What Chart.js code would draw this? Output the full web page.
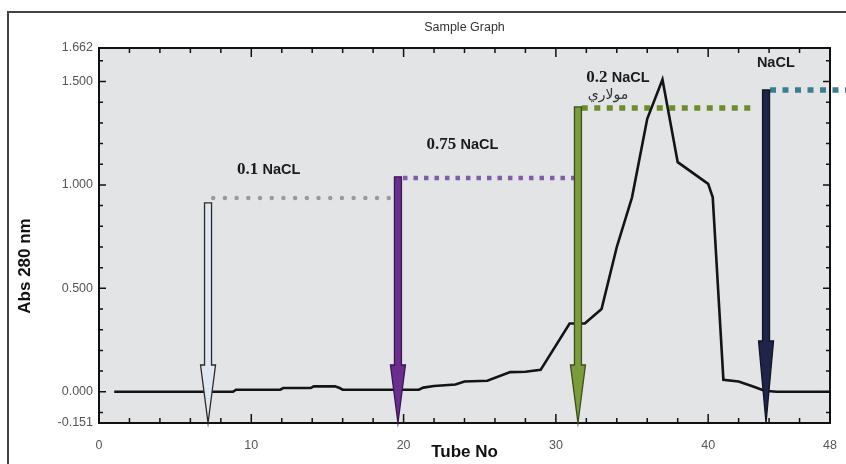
<!DOCTYPE html>
<html>
<head>
<meta charset="utf-8">
<script src="https://cdn.jsdelivr.net/npm/chart.js@4.4.0/dist/chart.umd.min.js"></script>
<style>
  html, body { margin: 0; padding: 0; background: #fff; }
  #wrap { width: 846px; height: 464px; position: relative; }
</style>
</head>
<body>
<div id="wrap"><canvas id="canvas" width="846" height="464"></canvas></div>
<script>
// absorbance curve (tube no, abs 280)
const tubes = [1, 8.8, 9, 11.9, 12.1, 13.9, 14.1, 15.5, 15.8, 16, 21, 21.3, 22, 23.4, 24, 25.5, 27, 28, 29, 30.9, 31.9, 33, 34, 35, 36, 37, 38, 40, 40.3, 41, 42, 43, 43.7, 44.5, 48];
const absValues = [0, 0, 0.01, 0.01, 0.018, 0.018, 0.026, 0.026, 0.018, 0.01, 0.01, 0.02, 0.028, 0.035, 0.05, 0.053, 0.095, 0.097, 0.106, 0.33, 0.33, 0.40, 0.70, 0.94, 1.32, 1.51, 1.11, 1.005, 0.94, 0.058, 0.05, 0.024, 0.005, 0, 0];

const xTicks = [0, 10, 20, 30, 40, 48];
const yTicks = [-0.151, 0, 0.5, 1.0, 1.5, 1.662];

// salt steps: arrow position, arrow top, dotted level and its span
const stepNames = ['0.1 NaCL', '0.75 NaCL', '0.2 NaCL', 'NaCL'];
const arrowX = [7.16, 19.63, 31.45, 43.8];
const arrowTop = [0.913, 1.039, 1.377, 1.459];
const levelY = [0.937, 1.034, 1.372, 1.459];
const levelStart = [7.5, 19.96, 31.7, 44.06];
const levelEnd = [19.24, 31.25, 43.07, 49.2];

// text labels (left x, middle y in data units)
const labelX = [9.06, 21.5, 32.0, 43.2];
const labelY = [1.072, 1.193, 1.517, 1.589];
const arabicText = 'مولاري';
const arabicPos = [32.1, 1.435];

const arrowFill = ['#dfe7f1', '#6b2e8e', '#7c9c3c', '#1f2548'];
const arrowLine = ['#2a2a2a', '#3a1650', '#3c4d1c', '#101322'];
const levelColor = ['#9a9a9a', '#7e5ea8', '#6c8e2a', '#3a7f8f'];

const levelSets = stepNames.map((n, i) => ({
  label: n,
  data: [{ x: levelStart[i], y: levelY[i] }, { x: levelEnd[i], y: levelY[i] }],
  borderColor: levelColor[i],
  borderWidth: i < 2 ? 4.5 : 5.5,
  borderDash: i === 0 ? [0, 11.7] : (i === 1 ? [4.5, 6] : [6, 6.5]),
  borderCapStyle: i === 0 ? 'round' : 'butt',
  pointRadius: 0,
  clip: i === 3 ? false : undefined,
  order: 2
}));

const framePlugin = {
  id: 'frame',
  beforeDraw(chart) {
    const { ctx, chartArea: a } = chart;
    ctx.save();
    ctx.fillStyle = '#e3e4e6';
    ctx.fillRect(a.left, a.top, a.right - a.left, a.bottom - a.top);
    // outer border
    ctx.strokeStyle = '#444';
    ctx.lineWidth = 2;
    ctx.beginPath();
    ctx.moveTo(8, 464);
    ctx.lineTo(8, 12);
    ctx.lineTo(846, 12);
    ctx.stroke();
    // title
    ctx.fillStyle = '#333';
    ctx.font = '12.5px "Liberation Sans", Arial, sans-serif';
    ctx.textAlign = 'center';
    ctx.textBaseline = 'middle';
    ctx.fillText('Sample Graph', (a.left + a.right) / 2, 28);
    // axis titles
    ctx.fillStyle = '#111';
    ctx.font = 'bold 17px "Liberation Sans", Arial, sans-serif';
    ctx.fillText('Tube No', (a.left + a.right) / 2, 452);
    ctx.save();
    ctx.translate(25, 266);
    ctx.rotate(-Math.PI / 2);
    ctx.fillText('Abs 280 nm', 0, 0);
    ctx.restore();
    ctx.restore();
  },
  afterDatasetsDraw(chart) {
    const { ctx, chartArea: a, scales } = chart;
    const xs = scales.x, ys = scales.y;
    ctx.save();
    // axis box and inward ticks
    ctx.strokeStyle = '#111';
    ctx.lineWidth = 2;
    ctx.strokeRect(a.left, a.top, a.right - a.left, a.bottom - a.top);
    ctx.lineWidth = 1.5;
    ctx.beginPath();
    for (let v = 2; v < 48; v += 2) {
      const px = xs.getPixelForValue(v);
      const len = v % 10 === 0 ? 9 : 5;
      ctx.moveTo(px, a.bottom); ctx.lineTo(px, a.bottom - len);
      ctx.moveTo(px, a.top); ctx.lineTo(px, a.top + len);
    }
    for (let k = -1; k <= 16; k++) {
      const py = ys.getPixelForValue(k / 10);
      const len = k % 5 === 0 ? 7 : 4;
      ctx.moveTo(a.left, py); ctx.lineTo(a.left + len, py);
      ctx.moveTo(a.right, py); ctx.lineTo(a.right - len, py);
    }
    ctx.stroke();

    // arrows
    const tipY = ys.getPixelForValue(yTicks[0]);
    arrowX.forEach((v, i) => {
      const px = xs.getPixelForValue(v);
      const top = ys.getPixelForValue(arrowTop[i]);
      const headLen = i === 3 ? 82 : 58;
      const headStart = tipY - headLen;
      const sw = 3.5, hw = 7.5;
      ctx.beginPath();
      ctx.moveTo(px - sw, top);
      ctx.lineTo(px + sw, top);
      ctx.lineTo(px + sw, headStart);
      ctx.lineTo(px + hw, headStart);
      ctx.lineTo(px, tipY);
      ctx.lineTo(px - hw, headStart);
      ctx.lineTo(px - sw, headStart);
      ctx.closePath();
      ctx.fillStyle = arrowFill[i];
      ctx.fill();
      ctx.strokeStyle = arrowLine[i];
      ctx.lineWidth = 1.3;
      ctx.stroke();
    });

    // step labels
    ctx.fillStyle = '#1a1a1a';
    ctx.textBaseline = 'middle';
    ctx.textAlign = 'left';
    stepNames.forEach((t, i) => {
      let px = xs.getPixelForValue(labelX[i]);
      const py = ys.getPixelForValue(labelY[i]);
      const sp = t.indexOf(' ');
      if (sp > 0) {
        const num = t.slice(0, sp);
        ctx.font = 'bold 17px "Liberation Serif", "Times New Roman", serif';
        ctx.fillText(num, px, py);
        px += ctx.measureText(num + ' ').width;
      }
      ctx.font = 'bold 14.5px "Liberation Sans", Arial, sans-serif';
      ctx.fillText(t.slice(sp + 1), px, py);
    });
    ctx.font = '14px "DejaVu Sans", "Noto Sans", sans-serif';
    ctx.fillStyle = '#333';
    ctx.fillText(arabicText, xs.getPixelForValue(arabicPos[0]), ys.getPixelForValue(arabicPos[1]));
    ctx.restore();
  }
};

new Chart(document.getElementById('canvas'), {
  type: 'line',
  data: {
    datasets: [
      {
        label: 'Abs 280 nm',
        data: tubes.map((t, i) => ({ x: t, y: absValues[i] })),
        borderColor: '#141414',
        borderWidth: 2.6,
        pointRadius: 0,
        tension: 0,
        order: 1
      },
      ...levelSets
    ]
  },
  plugins: [framePlugin],
  options: {
    responsive: false,
    animation: false,
    layout: { padding: { left: 0, right: 16, top: 48, bottom: 0 } },
    plugins: {
      legend: { display: false },
      tooltip: { enabled: false }
    },
    scales: {
      x: {
        type: 'linear',
        min: 0,
        max: 48,
        afterBuildTicks: s => { s.ticks = xTicks.map(v => ({ value: v })); },
        afterFit: s => { s.height = 41; s.paddingLeft = 0; s.paddingRight = 0; },
        grid: { display: false, drawTicks: false },
        border: { display: false },
        ticks: {
          padding: 15,
          color: '#555',
          font: { size: 12.5, family: '"Liberation Sans", Arial, sans-serif' },
          callback: v => String(v),
          maxRotation: 0
        }
      },
      y: {
        type: 'linear',
        min: -0.151,
        max: 1.662,
        afterBuildTicks: s => { s.ticks = yTicks.map(v => ({ value: v })); },
        afterFit: s => { s.width = 99; s.paddingTop = 0; s.paddingBottom = 0; },
        grid: { display: false, drawTicks: false },
        border: { display: false },
        ticks: {
          padding: 6,
          color: '#555',
          font: { size: 12.5, family: '"Liberation Sans", Arial, sans-serif' },
          callback: v => Number(v).toFixed(3)
        }
      }
    }
  }
});
</script>
</body>
</html>
